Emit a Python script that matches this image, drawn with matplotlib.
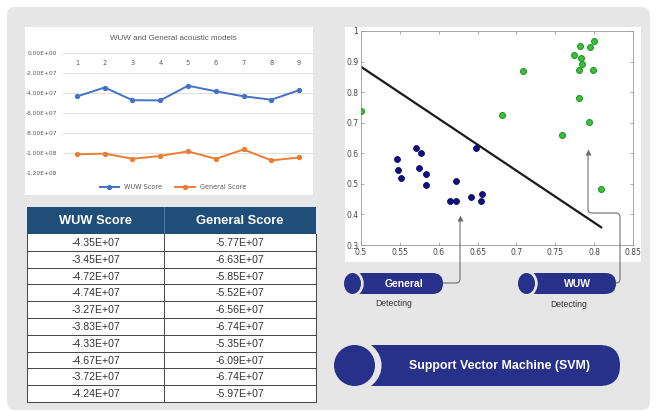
import matplotlib.pyplot as plt
from matplotlib.patches import FancyBboxPatch, Rectangle, Ellipse
from matplotlib.path import Path
from matplotlib.patches import PathPatch

# ---- data ----
categories = [1, 2, 3, 4, 5, 6, 7, 8, 9]
wuw_line = [-4.35e7, -3.45e7, -4.72e7, -4.74e7, -3.27e7, -3.83e7, -4.33e7, -4.67e7, -3.72e7]
general_line = [-1.013e8, -1.006e8, -1.058e8, -1.029e8, -0.984e8, -1.058e8, -0.965e8, -1.074e8, -1.045e8]

wuw_scores = [-4.35e7, -3.45e7, -4.72e7, -4.74e7, -3.27e7, -3.83e7, -4.33e7, -4.67e7, -3.72e7, -4.24e7]
general_scores = [-5.77e7, -6.63e7, -5.85e7, -5.52e7, -6.56e7, -6.74e7, -5.35e7, -6.09e7, -6.74e7, -5.97e7]
table_headers = ["WUW Score", "General Score"]

wuw_x = [0.500, 0.682, 0.708, 0.759, 0.774, 0.782, 0.783, 0.784, 0.781, 0.780,
         0.795, 0.800, 0.798, 0.793, 0.809]
wuw_y = [0.738, 0.724, 0.869, 0.659, 0.923, 0.950, 0.913, 0.893, 0.871, 0.782,
         0.949, 0.968, 0.872, 0.701, 0.483]
gen_x = [0.546, 0.547, 0.551, 0.571, 0.577, 0.575, 0.584, 0.584, 0.614, 0.622,
         0.622, 0.642, 0.648, 0.656, 0.655]
gen_y = [0.581, 0.544, 0.518, 0.618, 0.601, 0.553, 0.531, 0.497, 0.445, 0.508,
         0.445, 0.457, 0.618, 0.467, 0.445]
svm_x = [0.5, 0.809]
svm_y = [0.883, 0.358]

W, H = 656, 411
BG = "#e6e6e6"
NAVY = "#28318a"


def rect(x0, y0, x1, y1):
    return [x0 / W, 1 - y1 / H, (x1 - x0) / W, (y1 - y0) / H]


fig = plt.figure(figsize=(W / 100, H / 100), dpi=100)
fig.patch.set_facecolor("white")

bg = fig.add_axes([0, 0, 1, 1])
bg.set_xlim(0, W)
bg.set_ylim(H, 0)
bg.axis("off")
bg.add_patch(FancyBboxPatch((7, 7), 643, 403, boxstyle="round,pad=0,rounding_size=8",
                            fc=BG, ec="none"))
# white panels
bg.add_patch(Rectangle((25, 27), 288, 168, fc="white", ec="none"))
bg.add_patch(Rectangle((345, 27), 296, 235, fc="white", ec="none"))

# ---- table ----
tx0, tx_mid, tx1 = 27, 164, 316
hy0, hy1 = 207, 234
row_h = (402 - hy1) / len(wuw_scores)
bg.add_patch(Rectangle((tx0, hy0), tx1 - tx0, hy1 - hy0, fc="#1f4e79", ec="none"))
bg.plot([tx_mid, tx_mid], [hy0, hy1], color="#5a7ea3", lw=0.6)
for cx, head in zip([(tx0 + tx_mid) / 2, (tx_mid + tx1) / 2], table_headers):
    bg.text(cx, (hy0 + hy1) / 2 + 0.5, head, color="white", fontsize=9.3, fontweight="bold",
            ha="center", va="center", family="Liberation Sans")
bg.add_patch(Rectangle((tx0, hy1), tx1 - tx0, 402 - hy1, fc="white", ec="none"))
for i, (a, b) in enumerate(zip(wuw_scores, general_scores)):
    y0 = hy1 + i * row_h
    bg.plot([tx0, tx1], [y0 + row_h, y0 + row_h], color="#444444", lw=0.7)
    bg.text((tx0 + tx_mid) / 2, y0 + row_h / 2 + 0.5, "%.2E" % a, fontsize=7.6, color="#333333",
            ha="center", va="center", family="Liberation Sans")
    bg.text((tx_mid + tx1) / 2, y0 + row_h / 2 + 0.5, "%.2E" % b, fontsize=7.6, color="#333333",
            ha="center", va="center", family="Liberation Sans")
for xx in [tx0, tx_mid, tx1]:
    bg.plot([xx, xx], [hy1, 402], color="#444444", lw=0.7)

# ---- pills ----
def pill(x0, x1, yc, h, cw, label, fs):
    bg.add_patch(FancyBboxPatch((x0 + cw / 2, yc - h / 2), x1 - x0 - cw / 2, h,
                                boxstyle="round,pad=0,rounding_size=%f" % (h / 2),
                                fc=NAVY, ec="none"))
    bg.add_patch(Ellipse((x0 + cw / 2, yc), cw * 1.32, h * 1.25, fc=BG, ec="none"))
    bg.add_patch(Ellipse((x0 + cw / 2, yc), cw, h, fc=NAVY, ec="none"))
    bg.text((x0 + cw + x1) / 2 + 2, yc + 0.5, label, color="white", fontsize=fs,
            fontweight="bold", ha="center", va="center", family="Liberation Sans")


pill(344, 443, 283.5, 21, 17, "General", 7.5)
pill(518, 616, 283.5, 21, 17, "WUW", 7.5)
bg.text(394, 303, "Detecting", fontsize=6.2, color="#333333", ha="center", va="center",
        family="Liberation Sans")
bg.text(569, 304, "Detecting", fontsize=6.2, color="#333333", ha="center", va="center",
        family="Liberation Sans")
pill(334, 620, 365.5, 41, 41, "Support Vector Machine (SVM)", 8.9)

# ---- line chart ----
ax1 = fig.add_axes(rect(63, 53, 313, 173))
ax1.plot(categories, wuw_line, color="#4472c4", lw=1.4, marker="o", ms=2.8, label="WUW Score")
ax1.plot(categories, general_line, color="#ed7d31", lw=1.4, marker="o", ms=2.8, label="General Score")
ax1.set_xlim(0.5, 9.5)
ax1.set_ylim(-1.2e8, 0)
ax1.set_yticks([0, -2e7, -4e7, -6e7, -8e7, -1e8, -1.2e8])
ax1.set_yticklabels(["0.00E+00", "-2.00E+07", "-4.00E+07", "-6.00E+07", "-8.00E+07",
                     "-1.00E+08", "-1.20E+08"])
ax1.grid(axis="y", color="#d9d9d9", lw=0.6)
ax1.set_axisbelow(True)
ax1.xaxis.tick_top()
ax1.set_xticks(categories)
ax1.tick_params(axis="x", length=0, pad=-9, labelsize=4.7, labelcolor="#595959")
ax1.tick_params(axis="y", length=0, pad=4, labelsize=4.2, labelcolor="#595959")
for s in ax1.spines.values():
    s.set_visible(False)
ax1.patch.set_alpha(0)
fig.text(173 / W, 1 - 38 / H, "WUW and General acoustic models", fontsize=5.8, color="#595959",
         ha="center", va="center", family="Liberation Sans")
fig.legend(*ax1.get_legend_handles_labels(), loc="center", bbox_to_anchor=(173 / W, 1 - 187 / H),
           ncol=2, frameon=False, fontsize=4.7, handlelength=3, columnspacing=2,
           labelcolor="#595959")

# ---- scatter ----
ax2 = fig.add_axes(rect(361, 31, 633, 245))
ax2.plot(svm_x, svm_y, color="#1a1a1a", lw=1.6, zorder=2)
ax2.scatter(gen_x, gen_y, s=18, color="#101080", edgecolors="#0a0a60", lw=0.6, zorder=3)
ax2.scatter(wuw_x, wuw_y, s=18, color="#3cc03c", edgecolors="#229922", lw=0.8, zorder=3)
ax2.set_xlim(0.5, 0.85)
ax2.set_ylim(0.3, 1)
ax2.set_xticks([0.5, 0.55, 0.6, 0.65, 0.7, 0.75, 0.8, 0.85])
ax2.set_xticklabels(["0.5", "0.55", "0.6", "0.65", "0.7", "0.75", "0.8", "0.85"])
ax2.set_yticks([0.3, 0.4, 0.5, 0.6, 0.7, 0.8, 0.9, 1.0])
ax2.set_yticklabels(["0.3", "0.4", "0.5", "0.6", "0.7", "0.8", "0.9", "1"])
ax2.tick_params(direction="in", top=True, right=True, length=2.5, width=0.5, color="#888888",
                labelsize=5.5, labelcolor="#444444", pad=2)
for s in ax2.spines.values():
    s.set_color("#999999")
    s.set_linewidth(0.6)

# ---- connectors on top ----
ov = fig.add_axes([0, 0, 1, 1])
ov.set_xlim(0, W)
ov.set_ylim(H, 0)
ov.axis("off")
ov.patch.set_alpha(0)
GR = "#6e6e6e"
p1 = Path([(443, 283), (456, 283), (460, 283), (460, 279), (460, 219)],
          [Path.MOVETO, Path.LINETO, Path.CURVE3, Path.CURVE3, Path.LINETO])
p2 = Path([(616, 283), (616, 283), (620, 283), (620, 279), (620, 217), (620, 213), (616, 213),
           (592, 213), (588, 213), (588, 209), (588, 154)],
          [Path.MOVETO, Path.LINETO, Path.CURVE3, Path.CURVE3, Path.LINETO, Path.CURVE3,
           Path.CURVE3, Path.LINETO, Path.CURVE3, Path.CURVE3, Path.LINETO])
for p in (p1, p2):
    ov.add_patch(PathPatch(p, fc="none", ec=GR, lw=0.8))
ov.plot([460], [218], marker="^", ms=4, color=GR, mec="none")
ov.plot([588], [152], marker="^", ms=4, color=GR, mec="none")

fig.savefig("out.png", dpi=100, facecolor=fig.get_facecolor())
